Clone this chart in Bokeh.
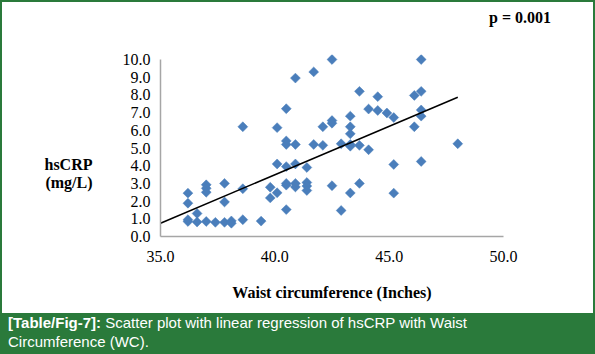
import numpy as np
from bokeh.plotting import figure
from bokeh.layouts import column
from bokeh.models import (Range1d, FixedTicker, NumeralTickFormatter, Div,
                          ColumnDataSource)
from bokeh.embed import file_html
from bokeh.resources import INLINE

# ---- data ----
waist = [36.2, 36.2, 36.2, 36.2, 36.6, 36.6, 37.0, 37.0, 37.0, 37.0,
         37.4, 37.8, 37.8, 37.8, 38.1, 38.1, 38.6, 38.6, 38.6, 39.4,
         39.8, 39.8, 40.1, 40.1, 40.1, 40.5, 40.5, 40.5, 40.5, 40.5,
         40.5, 40.5, 40.9, 40.9, 40.9, 40.9, 40.9, 41.4, 41.4, 41.4,
         41.4, 41.7, 41.7, 42.1, 42.1, 42.5, 42.5, 42.5, 42.5, 42.9,
         42.9, 43.3, 43.3, 43.3, 43.3, 43.3, 43.3, 43.7, 43.7, 43.7,
         44.1, 44.1, 44.5, 44.5, 44.9, 45.2, 45.2, 45.2, 46.1, 46.1,
         46.4, 46.4, 46.4, 46.4, 46.4, 48.0]
hscrp = [2.45, 1.88, 0.95, 0.85, 1.30, 0.82, 2.92, 2.72, 2.50, 0.85,
         0.80, 3.00, 1.95, 0.80, 0.88, 0.75, 6.20, 2.70, 0.95, 0.87,
         2.78, 2.18, 6.15, 4.10, 2.47, 7.22, 5.40, 5.20, 3.95, 3.00,
         2.90, 1.52, 8.95, 5.20, 4.10, 3.00, 2.80, 3.90, 3.05, 2.85,
         2.60, 9.30, 5.20, 6.20, 5.15, 10.0, 6.55, 6.40, 2.87, 5.24,
         1.47, 6.80, 6.20, 5.80, 5.20, 5.10, 2.46, 8.20, 5.15, 3.00,
         7.20, 4.90, 7.90, 7.12, 6.98, 6.72, 4.07, 2.45, 7.97, 6.20,
         10.0, 8.20, 7.15, 6.80, 4.24, 5.24]
trend_x = [35.0, 48.0]
trend_y = [0.75, 7.87]
x_ticks = [35, 40, 45, 50]
y_ticks = [0, 1, 2, 3, 4, 5, 6, 7, 8, 9, 10]

GREEN = "#2a7a3b"
BLUE = "#4a7ebb"
SERIF = "Liberation Serif"
SANS = "Liberation Sans"

BW = 2                     # outer green border width
W = 595 - 2 * BW           # inner width
TOP_H = 40                 # strip holding the p value
CAP_H = 39                 # caption band
FIG_H = 354 - 2 * BW - TOP_H - CAP_H

# frame edges in figure pixels
FL, FR = 158, 501
FB = 236 - BW - TOP_H      # y of 0.0
Y_TOP_PX = 59 - BW - TOP_H # y of 10.0
PAD = 5                    # extra room above 10.0 so top markers are whole
FT = Y_TOP_PX - PAD
Y_END = 10.0 + PAD * 10.0 / (FB - Y_TOP_PX)

p = figure(width=W, height=FIG_H, output_backend="svg", toolbar_location=None,
           x_range=Range1d(35.0, 50.0), y_range=Range1d(0.0, Y_END),
           min_border_left=FL, min_border_right=W - FR,
           min_border_top=FT, min_border_bottom=FIG_H - FB)
p.outline_line_color = None
p.grid.grid_line_color = None
p.background_fill_color = "white"
p.border_fill_color = "white"

for ax in (p.xaxis[0], p.yaxis[0]):
    ax.axis_line_color = "#a6a6a6"
    ax.axis_line_width = 1.5
    ax.major_tick_line_color = None
    ax.minor_tick_line_color = None
    ax.major_tick_out = 0
    ax.major_tick_in = 0
    ax.minor_tick_out = 0
    ax.minor_tick_in = 0
    ax.major_label_text_font = SERIF
    ax.major_label_text_font_size = "16px"
    ax.major_label_text_color = "black"
    ax.formatter = NumeralTickFormatter(format="0.0")
    ax.axis_label_text_font = SERIF
    ax.axis_label_text_font_size = "16px"
    ax.axis_label_text_font_style = "bold"
    ax.axis_label_text_color = "black"

xa, ya = p.xaxis[0], p.yaxis[0]
xa.ticker = FixedTicker(ticks=x_ticks)
ya.ticker = FixedTicker(ticks=y_ticks)
ya.bounds = (0, 10)
xa.major_label_standoff = 14
ya.major_label_standoff = 10
xa.axis_label = "Waist circumference (Inches)"
xa.axis_label_standoff = 19
ya.axis_label = "\n\n\nhsCRP\n(mg/L)"
ya.axis_label_orientation = "horizontal"
ya.axis_label_text_line_height = 1.1
ya.axis_label_standoff = 27

src = ColumnDataSource(dict(x=waist, y=hscrp))
p.scatter("x", "y", source=src, marker="square", size=7, angle=np.pi / 4,
          fill_color=BLUE, line_color=BLUE, line_width=0.5)
p.line(trend_x, trend_y, line_color="black", line_width=1.5)

top = Div(text="<b>p = 0.001</b>", width=W, height=TOP_H, margin=0,
          styles={"background-color": "white", "color": "black",
                  "font-family": SERIF, "font-size": "16px",
                  "line-height": "20px", "padding-left": "487px",
                  "padding-top": "6px", "box-sizing": "border-box",
                  "overflow": "hidden", "white-space": "nowrap"})

cap = Div(text="<b>[Table/Fig-7]:</b> Scatter plot with linear regression of hsCRP "
               "with Waist<br>Circumference (WC).",
          width=W, height=CAP_H, margin=0,
          styles={"background-color": GREEN, "color": "white",
                  "font-family": SANS, "font-size": "15px",
                  "line-height": "19px", "padding-left": "6px",
                  "box-sizing": "border-box", "overflow": "hidden",
                  "white-space": "nowrap"})

layout = column(top, p, cap, spacing=0,
                styles={"border": f"{BW}px solid {GREEN}", "background-color": "white"})

open("out.html", "w").write(file_html(layout, INLINE))
